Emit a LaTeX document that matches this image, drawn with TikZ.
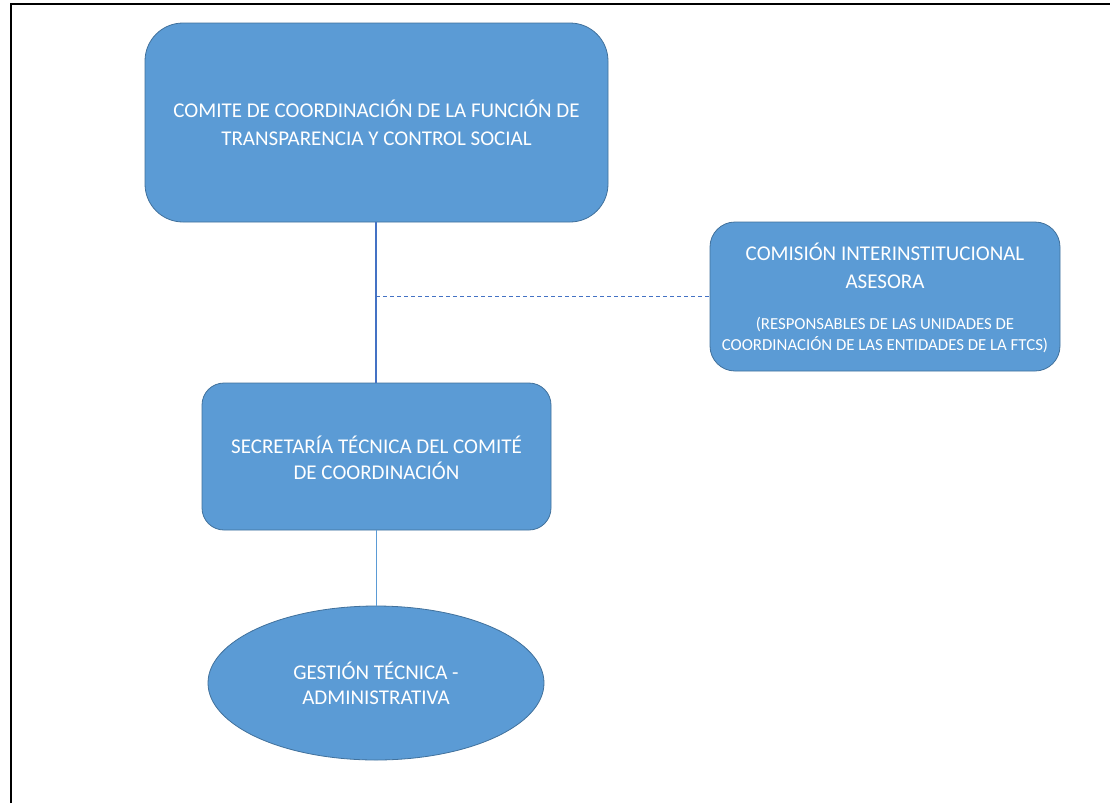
\documentclass[tikz,border=0pt]{standalone}
\usepackage{fontspec}
\setmainfont{Carlito}
\usetikzlibrary{shapes.geometric}
\definecolor{boxfill}{HTML}{5B9BD5}
\definecolor{boxline}{HTML}{41719C}
\definecolor{conn}{HTML}{4472C4}
\begin{document}
\begin{tikzpicture}[x=1pt,y=-1pt,
  box/.style={draw=boxline, line width=0.8pt, fill=boxfill},
  txt/.style={text=white, align=center, inner sep=0pt}]
\useasboundingbox (0,0) rectangle (1110,803);
\fill[white] (0,0) rectangle (1110,803);
\draw[line width=2pt] (11,803) -- (11,4) -- (1110,4);
% boxes
\draw[box, rounded corners=38pt] (145,23) rectangle (608,222);
\node[txt, font=\fontsize{21}{28}\selectfont] (comite) at (376.5,123) {COMITE DE COORDINACIÓN DE LA FUNCIÓN DE\\TRANSPARENCIA Y CONTROL SOCIAL};
\coordinate (comiteS) at (376,222);
\draw[box, rounded corners=25pt] (710,222) rectangle (1060,371);
\node[txt, font=\fontsize{21}{28}\selectfont] (comision) at (885,266) {COMISIÓN INTERINSTITUCIONAL\\ASESORA};
\node[txt, font=\fontsize{16.8}{21}\selectfont] (comisionsub) at (885,335.5) {(RESPONSABLES DE LAS UNIDADES DE\\COORDINACIÓN DE LAS ENTIDADES DE LA FTCS)};
\coordinate (comisionW) at (710,296);
\draw[box, rounded corners=22pt] (202,383) rectangle (551,530);
\node[txt, font=\fontsize{21}{26.5}\selectfont] (secretaria) at (376.5,458) {SECRETARÍA TÉCNICA DEL COMITÉ\\DE COORDINACIÓN};
\coordinate (secN) at (376,383);
\coordinate (secS) at (376,530);
\node[box, ellipse, minimum width=336pt, minimum height=154pt, inner sep=0pt] (gestion) at (376,683) {};
\node[txt, font=\fontsize{21}{25}\selectfont] (gestiontxt) at (376,683) {GESTIÓN TÉCNICA -\\ADMINISTRATIVA};
% connectors
\draw[conn, line width=1.6pt] (comiteS) -- (secN);
\coordinate (mid) at (376,296);
\draw[conn, line width=0.8pt, dash pattern=on 4pt off 3pt] (mid) -- (comisionW);
\draw[boxfill, line width=0.9pt] (secS) -- (gestion.north);
\end{tikzpicture}
\end{document}
